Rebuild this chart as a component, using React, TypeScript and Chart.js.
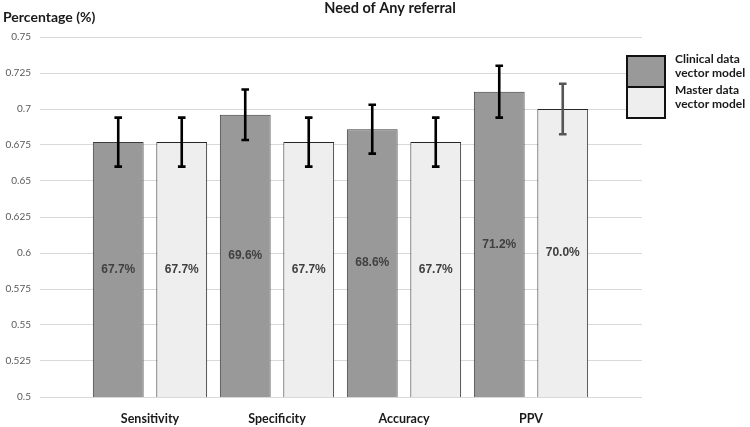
import React, { useEffect, useRef } from "react";
import { Chart, registerables } from "chart.js";

Chart.register(...registerables);

const categories = ["Sensitivity", "Specificity", "Accuracy", "PPV"];
const seriesNames = ["Clinical data vector model", "Master data vector model"];
const legendLines = [["Clinical data", "vector model"], ["Master data", "vector model"]];
const clinicalValues = [0.677, 0.696, 0.686, 0.712];
const masterValues = [0.677, 0.677, 0.677, 0.7];
const clinicalErrors = [0.017, 0.0175, 0.017, 0.018];
const masterErrors = [0.017, 0.017, 0.017, 0.0175];
const yTicks = [0.5, 0.525, 0.55, 0.575, 0.6, 0.625, 0.65, 0.675, 0.7, 0.725, 0.75];
const chartTitle = "Need of Any referral";
const yAxisTitle = "Percentage (%)";

const FONT = "Lato, 'Open Sans', sans-serif";
const LABEL_FONT = "'Liberation Sans', Arial, sans-serif";
const fills = ["#999999", "#eeeeee"];
const borders = ["#3c3c3c", "#262626"];
const errColors = [["#000", "#000", "#000", "#000"], ["#000", "#000", "#000", "#555555"]];

const overlay = {
  id: "overlay",
  afterDatasetsDraw(chart: any) {
    const ctx = chart.ctx;
    const y = chart.scales.y;
    const errs = [clinicalErrors, masterErrors];
    chart.data.datasets.forEach((ds: any, di: number) => {
      const meta = chart.getDatasetMeta(di);
      meta.data.forEach((bar: any, i: number) => {
        const v = ds.data[i].y;
        const topPx = y.getPixelForValue(v);
        const basePx = y.getPixelForValue(y.min);
        ctx.save();
        ctx.font = `bold 12px ${LABEL_FONT}`;
        ctx.fillStyle = "#404040";
        ctx.textAlign = "center";
        ctx.textBaseline = "middle";
        ctx.fillText((v * 100).toFixed(1) + "%", bar.x, (topPx + basePx) / 2);
        ctx.restore();
        const e = errs[di][i];
        const top = y.getPixelForValue(v + e);
        const bot = y.getPixelForValue(v - e);
        ctx.save();
        ctx.strokeStyle = errColors[di][i];
        ctx.lineWidth = 2.6;
        ctx.beginPath();
        ctx.moveTo(bar.x, top);
        ctx.lineTo(bar.x, bot);
        ctx.moveTo(bar.x - 3.8, top);
        ctx.lineTo(bar.x + 3.8, top);
        ctx.moveTo(bar.x - 3.8, bot);
        ctx.lineTo(bar.x + 3.8, bot);
        ctx.stroke();
        ctx.restore();
      });
    });
  },
  afterDraw(chart: any) {
    const ctx = chart.ctx;
    ctx.save();
    ctx.font = `bold 14.5px ${FONT}`;
    ctx.fillStyle = "#1a1a1a";
    ctx.textAlign = "center";
    ctx.textBaseline = "middle";
    ctx.fillText(chartTitle, 390, 8);
    ctx.textAlign = "left";
    ctx.font = `bold 14px ${FONT}`;
    ctx.fillText(yAxisTitle, 3, 17);
    const bx = 627, bw = 38, bh = 31;
    for (let k = 0; k < 2; k++) {
      const by = 56 + k * bh;
      ctx.fillStyle = fills[k];
      ctx.fillRect(bx, by, bw, bh);
      ctx.strokeStyle = "#111";
      ctx.lineWidth = 2;
      ctx.strokeRect(bx, by, bw, bh);
      ctx.fillStyle = "#1a1a1a";
      ctx.font = `bold 12px ${FONT}`;
      ctx.textAlign = "left";
      ctx.fillText(legendLines[k][0], 675, by + 3);
      ctx.fillText(legendLines[k][1], 675, by + 17);
    }
    ctx.restore();
  },
};

export default function App() {
  const ref = useRef<HTMLCanvasElement>(null);
  useEffect(() => {
    const chart = new Chart(ref.current!, {
      type: "bar",
      data: {
        datasets: [
          {
            label: seriesNames[0],
            data: clinicalValues.map((v, i) => ({ x: i, y: v })),
            backgroundColor: fills[0],
            borderColor: borders[0],
            borderWidth: 1,
          },
          {
            label: seriesNames[1],
            data: masterValues.map((v, i) => ({ x: i, y: v })),
            backgroundColor: fills[1],
            borderColor: borders[1],
            borderWidth: 1,
          },
        ],
      },
      options: {
        animation: false,
        responsive: false,
        maintainAspectRatio: false,
        categoryPercentage: 1,
        barPercentage: 0.8,
        layout: { padding: { left: 0, right: 108, top: 37, bottom: 0 } },
        plugins: { legend: { display: false }, title: { display: false }, tooltip: { enabled: false } },
        scales: {
          x: {
            type: "linear",
            offset: false,
            min: -0.866,
            max: 3.874,
            afterBuildTicks: (s: any) => {
              s.ticks = categories.map((_, i) => ({ value: i }));
            },
            afterFit: (s: any) => {
              s.height = 30;
            },
            grid: { display: false, drawTicks: false, offset: false },
            border: { display: false },
            ticks: {
              autoSkip: false,
              maxRotation: 0,
              padding: 14,
              color: "#1a1a1a",
              font: { family: FONT, size: 12.5, weight: "bold" },
              callback: (v: any) => categories[v] ?? "",
            },
          },
          y: {
            type: "linear",
            min: 0.5,
            max: 0.75,
            afterBuildTicks: (s: any) => {
              s.ticks = yTicks.map((v) => ({ value: v }));
            },
            afterFit: (s: any) => {
              s.width = 40;
            },
            grid: { color: "#d9d9d9", lineWidth: 1, drawTicks: false },
            border: { display: false },
            ticks: {
              padding: 9,
              color: "#595959",
              font: { family: FONT, size: 10 },
              callback: (v: any) => String(+Number(v).toFixed(3)),
            },
          },
        },
      },
      plugins: [overlay],
    } as any);
    return () => chart.destroy();
  }, []);
  return (
    <div style={{ position: "fixed", left: 0, top: 0, width: 750, height: 427, background: "#fff" }}>
      <canvas ref={ref} width={750} height={427} style={{ width: 750, height: 427, display: "block" }} />
    </div>
  );
}
